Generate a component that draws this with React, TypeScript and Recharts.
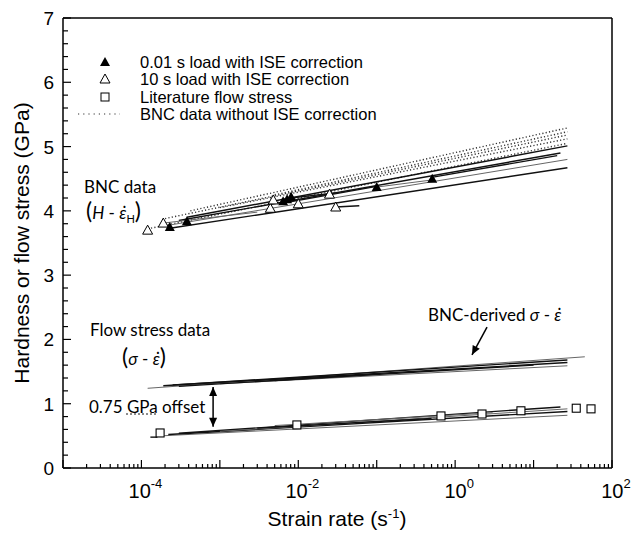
import { ComposedChart, Line, Scatter, XAxis, YAxis } from 'recharts';

type Pt = { x: number; y: number };
type Seg = [number, number, number, number]; // rate0, value0, rate1, value1

const xLabelled = [1e-4, 1e-2, 1, 100];
const decades = [-5, -4, -3, -2, -1, 0, 1];
const yMajor = [0, 1, 2, 3, 4, 5, 6, 7];

// markers
const fastTri: Pt[] = [
  { x: 2.3e-4, y: 3.75 },
  { x: 3.8e-4, y: 3.84 },
  { x: 6.4e-3, y: 4.15 },
  { x: 7.2e-3, y: 4.18 },
  { x: 8.1e-3, y: 4.22 },
  { x: 0.1, y: 4.37 },
  { x: 0.51, y: 4.5 },
];
const slowTri: Pt[] = [
  { x: 1.2e-4, y: 3.7 },
  { x: 1.9e-4, y: 3.81 },
  { x: 4.4e-3, y: 4.04 },
  { x: 4.8e-3, y: 4.17 },
  { x: 1.0e-2, y: 4.11 },
  { x: 2.5e-2, y: 4.26 },
  { x: 3.0e-2, y: 4.06 },
];
const litSquares: Pt[] = [
  { x: 1.73e-4, y: 0.545 },
  { x: 9.6e-3, y: 0.67 },
  { x: 0.66, y: 0.81 },
  { x: 2.2, y: 0.84 },
  { x: 6.9, y: 0.89 },
  { x: 35, y: 0.93 },
  { x: 54, y: 0.92 },
];

// line fits
const bncSolid: Seg[] = [
  [2.3e-4, 3.73, 27, 4.67],
  [2.3e-4, 3.78, 27, 4.8],
  [3.0e-4, 3.85, 22, 4.9],
  [3.8e-4, 3.9, 27, 5.01],
  [1.9e-4, 3.81, 3.0e-3, 3.98],
  [6.4e-3, 4.12, 0.1, 4.38],
  [8e-3, 4.2, 3e-2, 4.28],
  [0.1, 4.37, 0.5, 4.48],
  [0.5, 4.52, 20, 4.86],
  [3e-2, 4.06, 6e-2, 4.08],
];
const bncDotted: Seg[] = [
  [4.2e-4, 4.0, 27, 5.29],
  [2e-4, 3.88, 27, 5.18],
  [1.2e-4, 3.72, 27, 5.05],
  [1e-3, 4.05, 27, 5.12],
  [5e-3, 4.25, 27, 5.23],
];
const derivedLines: Seg[] = [
  [1.2e-4, 1.24, 45, 1.73],
  [1.9e-4, 1.28, 27, 1.68],
  [2.5e-4, 1.29, 27, 1.64],
  [1e-3, 1.31, 27, 1.59],
  [3e-4, 1.27, 0.1, 1.46],
  [5e-3, 1.36, 10, 1.6],
];
const flowLines: Seg[] = [
  [1.8e-4, 0.5, 27, 0.82],
  [2.2e-4, 0.52, 27, 0.88],
  [3e-4, 0.54, 22, 0.95],
  [1e-3, 0.57, 27, 0.92],
  [3e-3, 0.62, 0.5, 0.77],
  [1.3e-4, 0.48, 1.6e-4, 0.48],
  [5e-3, 0.66, 3, 0.86],
];
const offsetArrow: Pt[] = [
  { x: 8.2e-4, y: 0.64 },
  { x: 8.2e-4, y: 1.26 },
];
const calloutArrow: Pt[] = [
  { x: 2.55, y: 2.19 },
  { x: 1.64, y: 1.76 },
];

const xTicks: number[] = [];
decades.forEach((d) => {
  for (let k = 1; k < 10; k++) xTicks.push(k * Math.pow(10, d));
});
xTicks.push(100);
const yTicks = Array.from({ length: 36 }, (_, i) => i / 5);

const seg = (s: Seg): Pt[] => [
  { x: s[0], y: s[1] },
  { x: s[2], y: s[3] },
];

const tickFont = 'Liberation Sans, Arial, sans-serif';
const noteFont = 'Lato, "Open Sans", sans-serif';

const isDecade = (v: number) => Math.abs(Math.log10(v) - Math.round(Math.log10(v))) < 1e-6;

const XTick = (p: any) => {
  const { x, y, payload, side } = p;
  const v = payload.value;
  const major = isDecade(v);
  const len = major ? 8 : 4;
  const dir = side === 'top' ? 1 : -1;
  const lab = side === 'bottom' && major && xLabelled.some((t) => Math.abs(t - v) / t < 1e-6);
  return (
    <g>
      <line x1={x} x2={x} y1={y} y2={y + dir * len} stroke="#000" strokeWidth={1.2} />
      {lab && (
        <text x={x + 4} y={y + 30} textAnchor="middle" fontSize={20} fontFamily={tickFont} fill="#000">
          10
          <tspan dy={-10} fontSize={13}>
            {Math.round(Math.log10(v))}
          </tspan>
        </text>
      )}
    </g>
  );
};

const YTick = (p: any) => {
  const { x, y, payload, side } = p;
  const v = payload.value;
  const major = Number.isInteger(v);
  const len = major ? 8 : 5;
  const dir = side === 'left' ? 1 : -1;
  return (
    <g>
      <line x1={x} x2={x + dir * len} y1={y} y2={y} stroke="#000" strokeWidth={1.2} />
      {side === 'left' && major && yMajor.includes(v) && (
        <text x={x - 9} y={y + 7} textAnchor="end" fontSize={19} fontFamily={tickFont} fill="#000">
          {v}
        </text>
      )}
    </g>
  );
};

const triPath = (cx: number, cy: number) =>
  `M${cx},${cy - 5} L${cx + 5},${cy + 4} L${cx - 5},${cy + 4} Z`;

const FilledTri = (p: any) => <path d={triPath(p.cx, p.cy)} fill="#000" />;
const OpenTri = (p: any) => (
  <path d={triPath(p.cx, p.cy)} fill="#fff" stroke="#000" strokeWidth={1} />
);
const OpenSquare = (p: any) => (
  <rect x={p.cx - 4} y={p.cy - 4} width={8} height={8} fill="#fff" stroke="#000" strokeWidth={1.1} />
);
const Head = (p: any) => {
  const { cx, cy, angle } = p;
  return (
    <path
      d={`M${cx},${cy} L${cx - 4},${cy + 9} L${cx + 4},${cy + 9} Z`}
      fill="#000"
      transform={`rotate(${angle} ${cx} ${cy})`}
    />
  );
};

const note = (left: number, top: number, extra: object = {}) => ({
  position: 'absolute' as const,
  left,
  top,
  fontFamily: noteFont,
  fontSize: 17,
  lineHeight: '20px',
  whiteSpace: 'nowrap' as const,
  color: '#000',
  ...extra,
});

const legendRows = [
  { label: '0.01 s load with ISE correction', kind: 'filled', cy: 62 },
  { label: '10 s load with ISE correction', kind: 'open', cy: 79 },
  { label: 'Literature flow stress', kind: 'square', cy: 97 },
  { label: 'BNC data without ISE correction', kind: 'dotted', cy: 114 },
];

const eDot = 'ε\u0307';

export default function App() {
  return (
    <div style={{ position: 'absolute', left: 0, top: 0, width: 632, height: 538, background: '#fff' }}>
      <ComposedChart width={632} height={538} margin={{ top: 0, right: 0, bottom: 0, left: 0 }}>
        <XAxis
          dataKey="x"
          type="number"
          scale="log"
          domain={[1e-5, 100]}
          allowDataOverflow
          ticks={xTicks}
          interval={0}
          height={70}
          tickSize={0}
          tickMargin={0}
          tickLine={false}
          axisLine={{ stroke: '#000', strokeWidth: 1.5 }}
          tick={(p: any) => <XTick {...p} side="bottom" />}
        />
        <XAxis
          xAxisId="top"
          orientation="top"
          type="number"
          scale="log"
          domain={[1e-5, 100]}
          allowDataOverflow
          ticks={xTicks}
          interval={0}
          height={18}
          tickSize={0}
          tickMargin={0}
          tickLine={false}
          axisLine={{ stroke: '#000', strokeWidth: 1.5 }}
          tick={(p: any) => <XTick {...p} side="top" />}
        />
        <YAxis
          dataKey="y"
          type="number"
          domain={[0, 7]}
          ticks={yTicks}
          interval={0}
          width={63}
          tickSize={0}
          tickMargin={0}
          tickLine={false}
          axisLine={{ stroke: '#000', strokeWidth: 1.5 }}
          tick={(p: any) => <YTick {...p} side="left" />}
        />
        <YAxis
          yAxisId="right"
          orientation="right"
          type="number"
          domain={[0, 7]}
          ticks={yTicks}
          interval={0}
          width={20}
          tickSize={0}
          tickMargin={0}
          tickLine={false}
          axisLine={{ stroke: '#000', strokeWidth: 1.5 }}
          tick={(p: any) => <YTick {...p} side="right" />}
        />

        {bncDotted.map((s, i) => (
          <Line
            key={`d${i}`}
            data={seg(s)}
            dataKey="y"
            stroke="#333"
            strokeWidth={1.4}
            strokeDasharray="1.2 2.2"
            dot={false}
            activeDot={false}
            isAnimationActive={false}
          />
        ))}
        {[...bncSolid, ...derivedLines, ...flowLines].map((s, i) => (
          <Line
            key={`s${i}`}
            data={seg(s)}
            dataKey="y"
            stroke={i % 3 === 1 ? '#666' : '#111'}
            strokeWidth={i % 3 === 1 ? 1 : 1.4}
            dot={false}
            activeDot={false}
            isAnimationActive={false}
          />
        ))}

        <Line data={offsetArrow} dataKey="y" stroke="#000" strokeWidth={1.5} dot={false} activeDot={false} isAnimationActive={false} />
        <Scatter data={[offsetArrow[1]]} dataKey="y" shape={(p: any) => <Head {...p} angle={0} />} isAnimationActive={false} />
        <Scatter data={[offsetArrow[0]]} dataKey="y" shape={(p: any) => <Head {...p} angle={180} />} isAnimationActive={false} />
        <Line data={calloutArrow} dataKey="y" stroke="#000" strokeWidth={1.5} dot={false} activeDot={false} isAnimationActive={false} />
        <Scatter data={[calloutArrow[1]]} dataKey="y" shape={(p: any) => <Head {...p} angle={208} />} isAnimationActive={false} />

        <Scatter data={slowTri} dataKey="y" shape={OpenTri} isAnimationActive={false} />
        <Scatter data={fastTri} dataKey="y" shape={FilledTri} isAnimationActive={false} />
        <Scatter data={litSquares} dataKey="y" shape={OpenSquare} isAnimationActive={false} />
      </ComposedChart>

      {/* legend */}
      {legendRows.map((r) => (
        <div key={r.label}>
          <svg
            width={50}
            height={14}
            style={{ position: 'absolute', left: 76, top: r.cy - 7 }}
          >
            {r.kind === 'filled' && <path d={triPath(29, 7)} fill="#000" />}
            {r.kind === 'open' && <path d={triPath(29, 7)} fill="#fff" stroke="#000" />}
            {r.kind === 'square' && <rect x={25} y={3} width={8} height={8} fill="#fff" stroke="#000" />}
            {r.kind === 'dotted' && (
              <line x1={2} x2={44} y1={7} y2={7} stroke="#333" strokeWidth={1.2} strokeDasharray="1.2 4" />
            )}
          </svg>
          <div style={note(140, r.cy - 8, { fontFamily: tickFont, fontSize: 16.5, lineHeight: '16px' })}>
            {r.label}
          </div>
        </div>
      ))}

      {/* annotations */}
      <div style={note(84, 177)}>BNC data</div>
      <div style={note(86, 198, { lineHeight: '24px' })}>
        <span style={{ fontSize: 23 }}>(</span>
        <i>H</i> - <i>{eDot}</i>
        <sub style={{ fontSize: 11 }}>H</sub>
        <span style={{ fontSize: 23 }}>)</span>
      </div>
      <div style={note(90, 320)}>Flow stress data</div>
      <div style={note(122, 344, { lineHeight: '24px' })}>
        <span style={{ fontSize: 23 }}>(</span>
        <i>σ</i> - <i>{eDot}</i>
        <span style={{ fontSize: 23 }}>)</span>
      </div>
      <div style={note(89, 397)}>
        0.75{' '}
        <span style={{ textDecoration: 'underline dotted #666' }}>GPa</span> offset
      </div>
      <div style={note(428, 305)}>
        BNC-derived <i>σ</i> - <i>{eDot}</i>
      </div>

      {/* axis titles */}
      <div
        style={{
          position: 'absolute',
          left: 22,
          top: 243,
          transform: 'translate(-50%, -50%) rotate(-90deg)',
          fontFamily: tickFont,
          fontSize: 21,
          whiteSpace: 'nowrap',
        }}
      >
        Hardness or flow stress (GPa)
      </div>
      <div
        style={{
          position: 'absolute',
          left: 337,
          top: 518,
          transform: 'translate(-50%, -50%)',
          fontFamily: tickFont,
          fontSize: 21,
          whiteSpace: 'nowrap',
        }}
      >
        Strain rate (s<sup style={{ fontSize: 13 }}>-1</sup>)
      </div>
    </div>
  );
}
